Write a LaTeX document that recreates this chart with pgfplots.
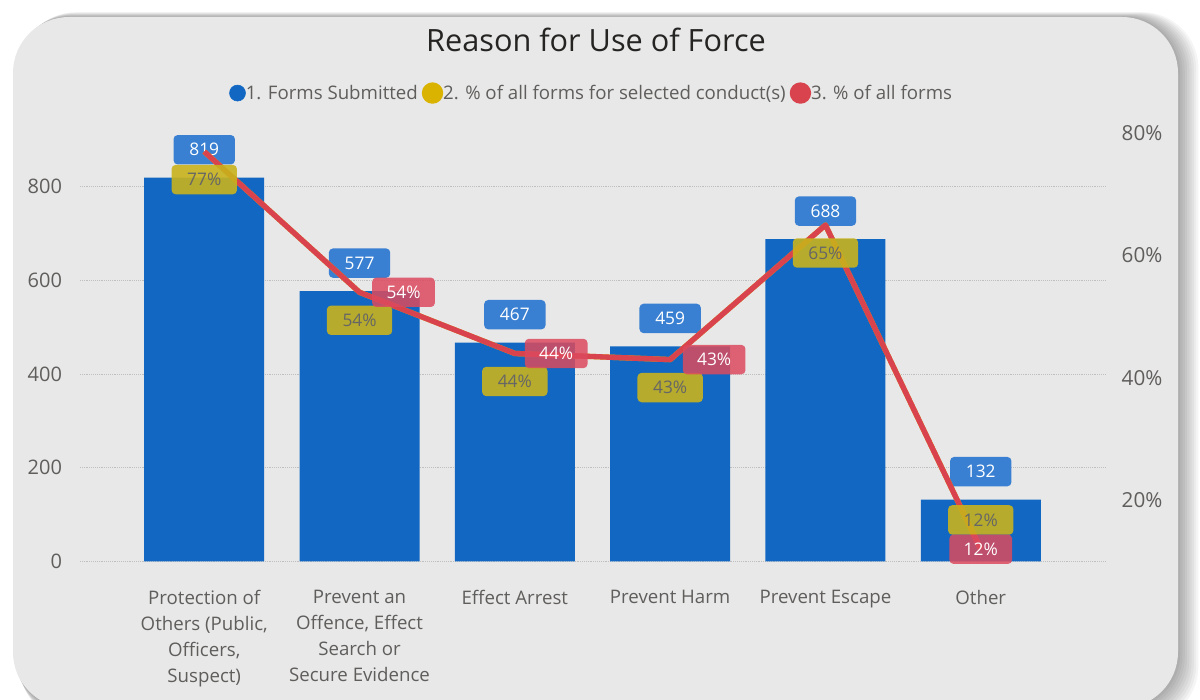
\documentclass[border=0pt]{standalone}
\usepackage{pgfplots}
\pgfplotsset{compat=1.18}
\usepackage{fontspec}
\setmainfont{Open Sans}
\definecolor{bgc}{HTML}{E8E8E8}
\definecolor{barblue}{HTML}{1167C2}
\definecolor{lblblue}{HTML}{3A80D2}
\definecolor{lineyel}{HTML}{D9B300}
\definecolor{lblyel}{HTML}{C8B31C}
\definecolor{linered}{HTML}{D9434E}
\definecolor{lblred}{HTML}{DC4A5E}
\definecolor{txtgray}{HTML}{605E5C}
\definecolor{titlec}{HTML}{252423}
\begin{document}
\begin{tikzpicture}
\useasboundingbox (0,0) rectangle (900pt,525pt);
\fill[white] (0,0) rectangle (900pt,525pt);
\begin{scope}
\clip (0,0) rectangle (900pt,525pt);
\foreach \i in {1,...,9} {
  \fill[black, opacity=0.04, rounded corners=42pt] (9.75pt+\i*0.6pt,-6pt-\i*1.2pt) rectangle (883.5pt+\i*1.7pt,512.25pt+\i*0.4pt);
}
\fill[bgc, rounded corners=42pt] (9.75pt,-6pt) rectangle (883.5pt,512.25pt);
\end{scope}
\node[text=titlec, font=\fontsize{23}{27}\selectfont] at (447pt,495pt) {Reason for Use of Force};

\begin{axis}[
  at={(60pt,103.9pt)}, anchor=south west,
  width=768.75pt, height=327.4pt, scale only axis,
  xmin=-0.8, xmax=5.8, ymin=0, ymax=931.7,
  clip=false,
  axis line style={draw=none}, major tick style={draw=none},
  ytick={0,200,400,600,800},
  ymajorgrids, grid style={densely dotted, color=black!25, line width=0.8pt},
  xtick={0,1,2,3,4,5},
  xticklabels={{Protection of\\Others (Public,\\Officers,\\Suspect)},{Prevent an\\Offence, Effect\\Search or\\Secure Evidence},{Effect Arrest},{Prevent Harm},{Prevent Escape},{Other}},
  xticklabel style={align=center, text=txtgray, font=\fontsize{14}{19.4}\selectfont, anchor=north, yshift=-18pt},
  yticklabel style={text=txtgray, font=\fontsize{15}{18}\selectfont, xshift=-10pt},
  /pgf/number format/assume math mode=true,
]
\addplot[ybar, bar width=90pt, fill=barblue, draw=none,
  nodes near coords,
  every node near coord/.append style={anchor=center, yshift=21pt, fill=lblblue, text=white, rounded corners=3pt, minimum width=46pt, minimum height=22pt, inner sep=1pt, font=\fontsize{13}{15}\selectfont, /pgf/number format/assume math mode=true}]
  coordinates {(0,819) (1,577) (2,467) (3,459) (4,688) (5,132)};
\end{axis}

\begin{axis}[
  at={(60pt,103.9pt)}, anchor=south west,
  width=768.75pt, height=327.4pt, scale only axis,
  xmin=-0.8, xmax=5.8, ymin=10, ymax=81.36,
  clip=false,
  axis y line*=right, hide x axis,
  axis line style={draw=none}, major tick style={draw=none},
  ytick={20,40,60,80},
  yticklabel={\pgfmathprintnumber{\tick}\%},
  yticklabel style={text=txtgray, font=\fontsize{15.5}{18}\selectfont, xshift=9pt},
  /pgf/number format/assume math mode=true,
  legend style={at={(0.4995,1.073)}, anchor=center, draw=none, fill=none,
    font=\fontsize{14}{17}\selectfont, text=txtgray, legend columns=-1,
    /tikz/every even column/.append style={column sep=1pt},
    /tikz/every odd column/.append style={column sep=-2pt}},
  legend image code/.code={\fill[#1] (0.3em,0) circle (6pt);},
]
\addlegendimage{barblue}
\addlegendentry{1. Forms Submitted}
\addplot[lineyel, line width=4pt, line join=round] coordinates {(0,77) (1,54) (2,44) (3,43) (4,65) (5,12)};
\addlegendentry{2. \% of all forms for selected conduct(s)}
\addplot[linered, line width=4pt, line join=round] coordinates {(0,77) (1,54) (2,44) (3,43) (4,65) (5,12)};
\addlegendentry{3. \% of all forms}

\addplot[forget plot, draw=none, mark=none, point meta=y,
  visualization depends on={\thisrow{dy} \as \dy},
  nodes near coords={\pgfmathprintnumber{\pgfplotspointmeta}\%},
  every node near coord/.append style={anchor=center, yshift=\dy*1pt, fill=lblyel, fill opacity=0.9, text opacity=1, text=black!60, rounded corners=3pt, minimum width=49pt, minimum height=22pt, inner sep=1pt, font=\fontsize{13}{15}\selectfont}]
  table[x=x, y=y] {
x y dy
0 77 -21
1 54 -21
2 44 -21
3 43 -21
4 65 -21
5 12 22
};

\addplot[forget plot, draw=none, mark=none, point meta=y,
  visualization depends on={\thisrow{dx} \as \dx},
  nodes near coords={\pgfmathprintnumber{\pgfplotspointmeta}\%},
  every node near coord/.append style={anchor=center, xshift=\dx*1pt, fill=lblred, fill opacity=0.85, text opacity=1, text=white, rounded corners=3pt, minimum width=47pt, minimum height=22pt, inner sep=1pt, font=\fontsize{13}{15}\selectfont}]
  table[x=x, y=y] {
x y dx
1 54 33
2 44 31
3 43 33
5 12 0
};
\end{axis}
\end{tikzpicture}
\end{document}
